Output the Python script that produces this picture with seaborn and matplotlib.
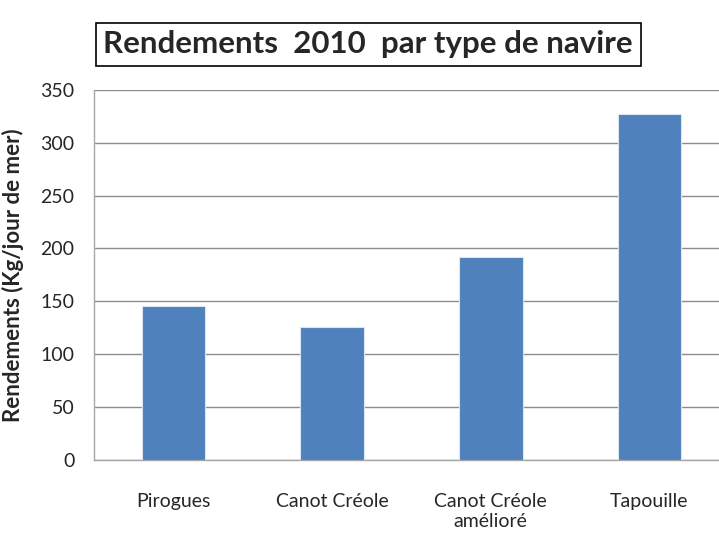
import matplotlib
matplotlib.use("Agg")
import matplotlib.pyplot as plt
import seaborn as sns
import pandas as pd

# --- data ---
types = ["Pirogues", "Canot Créole", "Canot Créole\namélioré", "Tapouille"]
rendements = [146, 126, 192, 327]
yticks = [0, 50, 100, 150, 200, 250, 300, 350]

df = pd.DataFrame({"Type": types, "Rendement": rendements})

sns.set_style("white")
plt.rcParams["font.family"] = ["Lato", "DejaVu Sans"]

fig = plt.figure(figsize=(7.19, 5.42), dpi=100)
# plot area runs a little past the right edge, as in the reference
ax = fig.add_axes([0.1307, 0.1513, 0.883, 0.683])

sns.barplot(data=df, x="Type", y="Rendement", color="#4F81BD", saturation=1,
            width=0.40, edgecolor="#DCE6F2", linewidth=0.8, ax=ax, zorder=3)

ax.set_ylim(0, 350)
ax.set_yticks(yticks)
ax.yaxis.grid(True, color="#8C8C8C", linewidth=1.0, zorder=0)
ax.set_axisbelow(True)

for s in ["top", "right"]:
    ax.spines[s].set_visible(False)
for s in ["left", "bottom"]:
    ax.spines[s].set_color("#A6A6A6")
    ax.spines[s].set_linewidth(1.0)

ax.tick_params(axis="y", length=0, pad=14, labelsize=14)
ax.tick_params(axis="x", length=0, pad=24, labelsize=14)
ax.set_xlabel("")
ax.set_ylabel("Rendements (Kg/jour de mer)", fontsize=16, fontweight="bold", labelpad=12)

fig.text(0.512, 0.918, "Rendements  2010  par type de navire", ha="center", va="center",
         fontsize=22.5, fontweight="bold",
         bbox=dict(boxstyle="square,pad=0.25", facecolor="white", edgecolor="black", linewidth=1.2))

fig.savefig("out.png", dpi=100)
